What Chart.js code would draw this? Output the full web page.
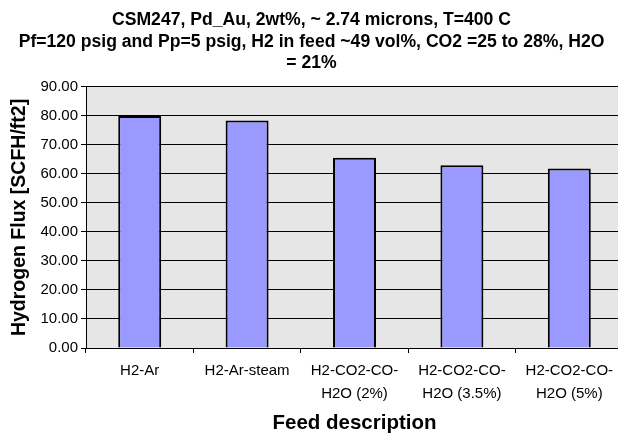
<!DOCTYPE html>
<html>
<head>
<meta charset="utf-8">
<script src="https://cdn.jsdelivr.net/npm/chart.js@4.4.0/dist/chart.umd.min.js"></script>
<style>
  html, body { margin: 0; padding: 0; background: #fff; overflow: hidden; }
  #wrap { position: relative; width: 630px; height: 437px; }
</style>
</head>
<body>
<div id="wrap"><canvas id="c" width="630" height="437"></canvas></div>
<script>
const titleLines = [
  'CSM247, Pd_Au, 2wt%, ~ 2.74 microns, T=400 C',
  'Pf=120 psig and Pp=5 psig, H2 in feed ~49 vol%, CO2 =25 to 28%, H2O',
  '= 21%'
];
const categories = [
  'H2-Ar',
  'H2-Ar-steam',
  ['H2-CO2-CO-', 'H2O (2%)'],
  ['H2-CO2-CO-', 'H2O (3.5%)'],
  ['H2-CO2-CO-', 'H2O (5%)']
];
const fluxValues = [80.0, 78.4, 65.6, 63.0, 61.9];
const yTitle = 'Hydrogen Flux [SCFH/ft2]';
const xTitle = 'Feed description';

const plotBg = {
  id: 'plotBg',
  beforeDraw(chart) {
    const { ctx, chartArea: a } = chart;
    ctx.save();
    ctx.fillStyle = '#e6e6e6';
    ctx.fillRect(a.left, a.top, a.right - a.left, a.bottom - a.top);
    ctx.restore();
  }
};

const FONT = "Arial, 'Liberation Sans', sans-serif";

new Chart(document.getElementById('c'), {
  type: 'bar',
  data: {
    labels: categories,
    datasets: [{
      data: fluxValues,
      backgroundColor: '#9999ff',
      borderColor: '#000000',
      borderWidth: 2,
      categoryPercentage: 0.4,
      barPercentage: 1.0
    }]
  },
  options: {
    responsive: false,
    animation: false,
    layout: { padding: { left: 0, right: 7, top: 0, bottom: 0 } },
    plugins: {
      legend: { display: false },
      tooltip: { enabled: false },
      title: {
        display: true,
        text: titleLines,
        color: '#000',
        font: { family: FONT, size: 17.6, weight: 'bold', lineHeight: 1.2 },
        padding: { top: 10, bottom: 13.6 }
      }
    },
    scales: {
      x: {
        grid: { display: true, offset: true, drawOnChartArea: false, drawTicks: true, tickLength: 5, color: '#000', lineWidth: 1 },
        border: { display: true, color: '#000', width: 1 },
        ticks: { color: '#000', font: { family: FONT, size: 15, lineHeight: 1.55 }, padding: 6, maxRotation: 0, autoSkip: false },
        title: { display: true, text: xTitle, color: '#000', font: { family: FONT, size: 20.5, weight: 'bold', lineHeight: 1.2 }, padding: { top: 0, bottom: 1 } },
        afterFit(s) { s.height = 89; }
      },
      y: {
        min: 0, max: 90,
        grid: { display: true, drawTicks: true, tickLength: 5, color: '#000', lineWidth: 1 },
        border: { display: true, color: '#000', width: 1 },
        ticks: { stepSize: 10, color: '#000', font: { family: FONT, size: 15 }, padding: 3, callback: v => Number(v).toFixed(2) },
        title: { display: true, text: yTitle, color: '#000', font: { family: FONT, size: 19.5, weight: 'bold', lineHeight: 1.2 }, padding: { top: 8, bottom: 0 } },
        afterFit(s) { s.width = 86; }
      }
    }
  },
  plugins: [plotBg]
});
</script>
</body>
</html>
